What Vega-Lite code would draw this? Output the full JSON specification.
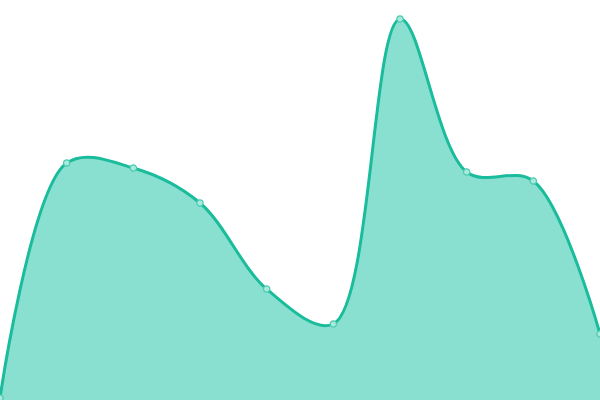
{
  "$schema": "https://vega.github.io/schema/vega-lite/v6.json",
  "width": 600,
  "height": 400,
  "autosize": {"type": "none"},
  "padding": 0,
  "background": "white",
  "view": {"stroke": null},
  "data": {
    "values": [
      {"i": 0, "v": 2},
      {"i": 1, "v": 237},
      {"i": 2, "v": 232},
      {"i": 3, "v": 197},
      {"i": 4, "v": 111},
      {"i": 5, "v": 76},
      {"i": 6, "v": 381},
      {"i": 7, "v": 228},
      {"i": 8, "v": 219},
      {"i": 9, "v": 66}
    ]
  },
  "encoding": {
    "x": {"field": "i", "type": "quantitative", "scale": {"domain": [0, 9], "nice": false, "zero": false}, "axis": null},
    "y": {"field": "v", "type": "quantitative", "scale": {"domain": [0, 400], "nice": false}, "axis": null}
  },
  "layer": [
    {"mark": {"type": "area", "interpolate": "catmull-rom", "color": "#8ae0d0", "opacity": 1}},
    {"mark": {"type": "line", "interpolate": "catmull-rom", "color": "#1abc9c", "strokeWidth": 3}},
    {"mark": {"type": "point", "filled": true, "fill": "#a6ebde", "stroke": "#4fcaaf", "strokeWidth": 1.2, "size": 40, "opacity": 1}}
  ]
}
